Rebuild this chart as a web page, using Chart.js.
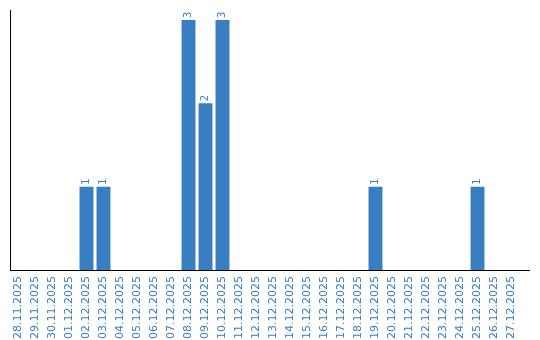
<!DOCTYPE html>
<html><head><meta charset="utf-8">
<script src="https://cdn.jsdelivr.net/npm/chart.js@4/dist/chart.umd.min.js"></script>
<style>html,body{margin:0;padding:0;background:#fff}#w{width:540px;height:340px}</style>
</head><body><div id="w"><canvas id="c"></canvas></div>
<script>
const categories = ["28.11.2025","29.11.2025","30.11.2025","01.12.2025","02.12.2025","03.12.2025","04.12.2025","05.12.2025","06.12.2025","07.12.2025","08.12.2025","09.12.2025","10.12.2025","11.12.2025","12.12.2025","13.12.2025","14.12.2025","15.12.2025","16.12.2025","17.12.2025","18.12.2025","19.12.2025","20.12.2025","21.12.2025","22.12.2025","23.12.2025","24.12.2025","25.12.2025","26.12.2025","27.12.2025"];
const counts = [0,0,0,0,1,1,0,0,0,0,3,2,3,0,0,0,0,0,0,0,0,1,0,0,0,0,0,1,0,0];
const BLUE = '#3a7ec2';
const FONT = '"DejaVu Sans", Verdana, sans-serif';

const extras = {
  id: 'extras',
  afterDatasetsDraw(chart) {
    const ctx = chart.ctx;
    const meta = chart.getDatasetMeta(0);
    ctx.save();
    ctx.fillStyle = BLUE;
    ctx.font = '10px ' + FONT;
    ctx.textAlign = 'left';
    ctx.textBaseline = 'middle';
    meta.data.forEach((bar, i) => {
      const v = counts[i];
      if (!v) return;
      ctx.save();
      ctx.translate(bar.x, bar.y - 2);
      ctx.rotate(-Math.PI / 2);
      ctx.fillText(String(v), 0, 0);
      ctx.restore();
    });
    const a = chart.chartArea;
    ctx.strokeStyle = '#000';
    ctx.lineWidth = 1;
    ctx.beginPath();
    ctx.moveTo(a.left, Math.round(a.bottom) + 0.5);
    ctx.lineTo(a.right + 10, Math.round(a.bottom) + 0.5);
    ctx.stroke();
    ctx.restore();
  }
};

new Chart(document.getElementById('c'), {
  type: 'bar',
  data: { labels: categories, datasets: [{ data: counts, backgroundColor: BLUE, categoryPercentage: 1, barPercentage: 0.82 }] },
  options: {
    responsive: true, maintainAspectRatio: false, animation: false,
    layout: { padding: { left: 10, top: 10, right: 20, bottom: 0 } },
    plugins: { legend: { display: false }, tooltip: { enabled: false } },
    scales: {
      x: {
        grid: { display: false, drawTicks: false },
        border: { display: true, color: '#000', width: 1 },
        ticks: { color: BLUE, font: { family: FONT, size: 11 }, minRotation: 90, maxRotation: 90, autoSkip: false, padding: 6 },
        afterFit(s) { s.height = 70; }
      },
      y: {
        min: 0, max: 3.12,
        grid: { display: false, drawTicks: false },
        border: { display: true, color: '#000', width: 1 },
        ticks: { display: false },
        afterFit(s) { s.width = 0; }
      }
    }
  },
  plugins: [extras]
});
</script></body></html>
